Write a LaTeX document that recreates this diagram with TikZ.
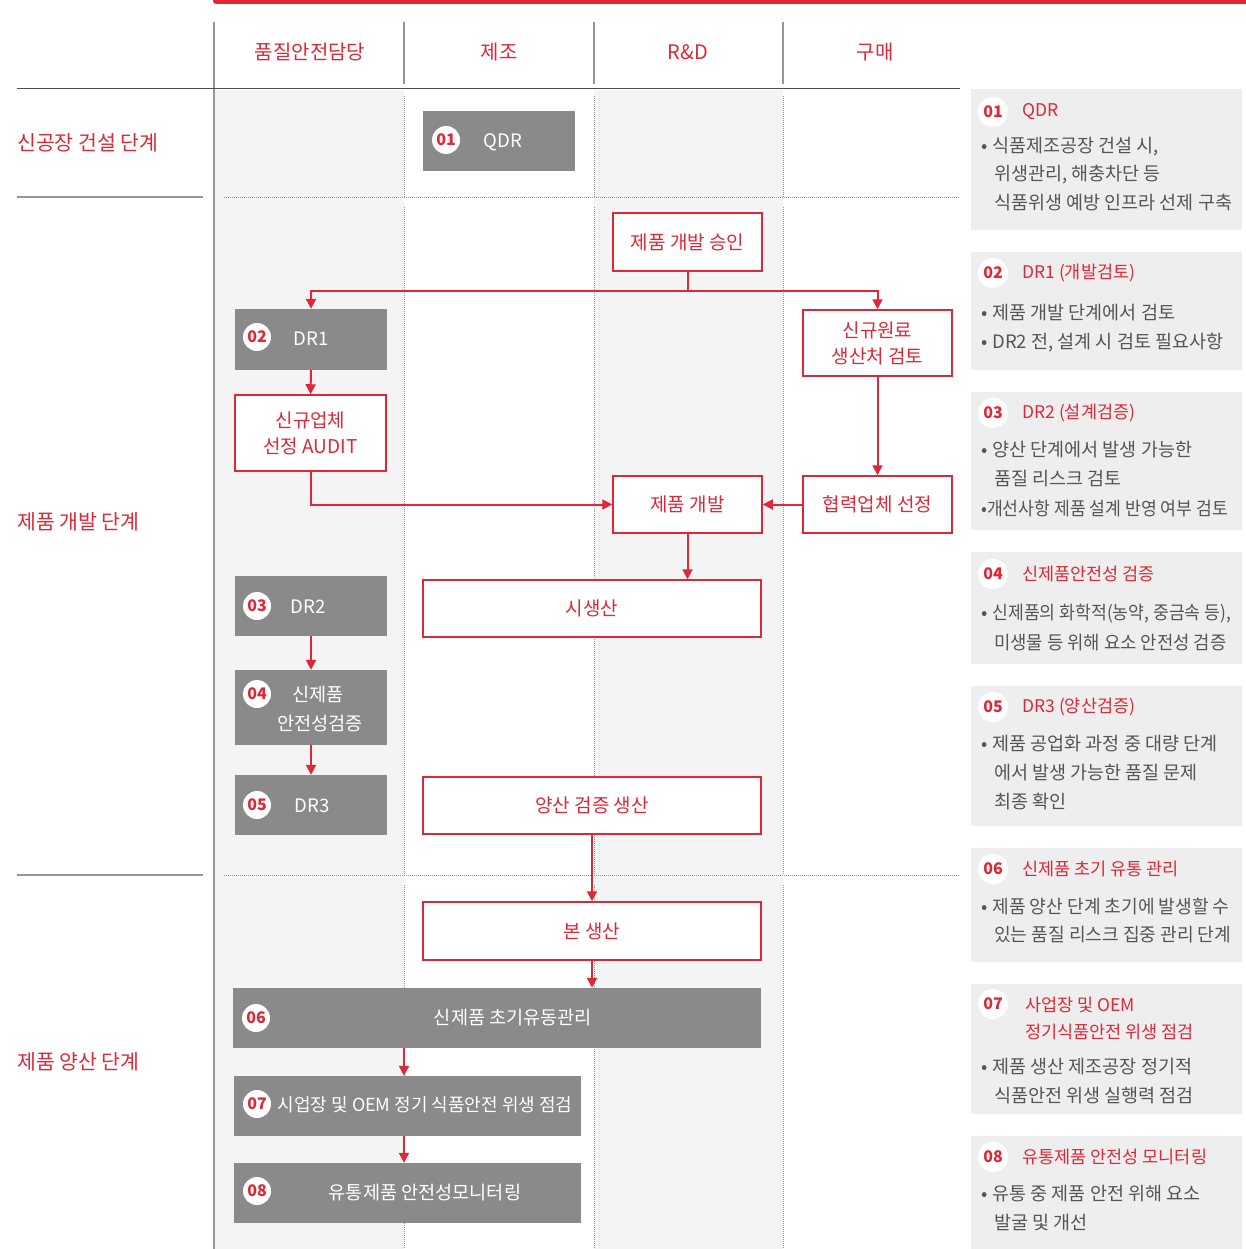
\documentclass[tikz,border=0pt]{standalone}
\usepackage{fontspec}
\setmainfont{Noto Sans CJK KR}
\usetikzlibrary{arrows.meta}
\definecolor{myred}{RGB}{222,40,55}
\definecolor{gboxc}{RGB}{138,138,138}
\definecolor{colbg}{RGB}{244,244,244}
\definecolor{panel}{RGB}{238,238,238}
\definecolor{bodytxt}{RGB}{85,85,85}
\definecolor{linegray}{RGB}{150,150,150}
\newcommand\myfs[2]{\fontsize{#1pt}{#2pt}\selectfont}
\tikzset{
 rbox/.style={draw=myred, line width=1.5pt, fill=white, text=myred, font=\myfs{19}{26}, align=center, inner sep=0pt},
 gbox/.style={fill=gboxc, inner sep=0pt},
 gtxt/.style={text=white, font=\myfs{18.6}{29}, align=center, inner sep=0pt},
 num/.style={circle, fill=white, text=myred, font=\myfs{16}{16}\bfseries, minimum size=28pt, inner sep=0pt},
 pnum/.style={circle, fill=white, text=myred, font=\myfs{16}{16}\bfseries, minimum size=30pt, inner sep=0pt},
 arr/.style={draw=myred, line width=2pt, -{Triangle[length=10pt,width=10pt]}},
 conn/.style={draw=myred, line width=2pt},
 hdr/.style={text=myred, font=\myfs{20}{20}, inner sep=0pt},
 stage/.style={text=myred, font=\myfs{20.5}{20.5}, anchor=west, inner sep=0pt},
 ptitle/.style={text=myred, font=\myfs{17.5}{27}, anchor=west, inner sep=0pt, align=left},
 pbody/.style={text=bodytxt, font=\myfs{18.5}{18.5}, anchor=west, inner sep=0pt},
 dotv/.style={draw=linegray, line width=0.8pt, dash pattern=on 1pt off 1pt},
}
\begin{document}
\begin{tikzpicture}[x=1pt,y=-1pt]
\useasboundingbox (0,0) rectangle (1245,1249);
% column backgrounds
\fill[colbg] (214,90) rectangle (404,1249);
\fill[colbg] (594,90) rectangle (783,1249);
% top red bar
\fill[myred, rounded corners=3pt] (213,-4) rectangle (1252,4);
% header separators
\draw[linegray, line width=2.5pt] (214,22) -- (214,1249);
\foreach \xx in {404,594,783}{
  \draw[linegray, line width=1.5pt] (\xx,22) -- (\xx,84);
  \draw[dotv] (\xx,96) -- (\xx,197);
  \draw[dotv] (\xx,207) -- (\xx,875);
  \draw[dotv] (\xx,885) -- (\xx,1249);
}
\draw[black!70, line width=1pt] (17,89) -- (960,89);
\draw[linegray, line width=1.2pt] (17,197) -- (203,197);
\draw[linegray, line width=1.2pt] (17,875) -- (203,875);
\draw[dotv] (224,197) -- (960,197);
\draw[dotv] (224,875) -- (960,875);
% headers
\node[hdr] (h1) at (310,52) {품질안전담당};
\node[hdr] (h2) at (499,52) {제조};
\node[hdr] (h3) at (688,52) {R\&D};
\node[hdr] (h4) at (875,52) {구매};
% stage labels
\node[stage] (s1) at (17,143) {신공장 건설 단계};
\node[stage] (s2) at (17,522) {제품 개발 단계};
\node[stage] (s3) at (17,1062) {제품 양산 단계};
% gray boxes
\node[gbox, minimum width=152pt, minimum height=60pt] (qdr) at (499,141) {};
\node[num] (n01) at (446,140) {01};
\node[gtxt] (tqdr) at (503,142) {QDR};
\node[gbox, minimum width=152pt, minimum height=61pt] (dr1) at (311,339.5) {};
\node[num] (n02) at (257,337) {02};
\node[gtxt] (tdr1) at (311,339) {DR1};
\node[gbox, minimum width=152pt, minimum height=60pt] (dr2) at (311,606) {};
\node[num] (n03) at (257,606) {03};
\node[gtxt] (tdr2) at (308,607) {DR2};
\node[gbox, minimum width=152pt, minimum height=75pt] (safe) at (311,707.5) {};
\node[num] (n04) at (257,694) {04};
\node[gtxt] (tsafe) at (320,709.5) {\hspace*{-4pt}신제품\\안전성검증};
\node[gbox, minimum width=152pt, minimum height=60pt] (dr3) at (311,805) {};
\node[num] (n05) at (257,805) {05};
\node[gtxt] (tdr3) at (312,806) {DR3};
\node[gbox, minimum width=528pt, minimum height=60pt] (b06) at (497,1018) {};
\node[num] (n06) at (256,1018) {06};
\node[gtxt] (t06) at (513,1018) {신제품 초기유동관리};
\node[gbox, minimum width=347pt, minimum height=60pt] (b07) at (407.5,1106) {};
\node[num] (n07) at (257,1104) {07};
\node[gtxt, font=\myfs{18}{18}] (t07) at (425,1105) {시업장 및 OEM 정기 식품안전 위생 점검};
\node[gbox, minimum width=347pt, minimum height=60pt] (b08) at (407.5,1193) {};
\node[num] (n08) at (257,1191) {08};
\node[gtxt] (t08) at (425,1193) {유통제품 안전성모니터링};
% red boxes
\node[rbox, minimum width=149pt, minimum height=58pt] (appr) at (687.5,242) {제품 개발 승인};
\node[rbox, minimum width=151pt, minimum height=76pt] (audit) at (310.5,433) {신규업체\\선정 AUDIT};
\node[rbox, minimum width=149pt, minimum height=66pt] (raw) at (877.5,343) {신규원료\\생산처 검토};
\node[rbox, minimum width=149pt, minimum height=57pt] (dev) at (687.5,504.5) {제품 개발};
\node[rbox, minimum width=149pt, minimum height=57pt] (coop) at (877.5,504.5) {협력업체 선정};
\node[rbox, minimum width=338pt, minimum height=57pt] (trial) at (592,608.5) {시생산};
\node[rbox, minimum width=338pt, minimum height=57pt] (mass) at (592,805.5) {양산 검증 생산};
\node[rbox, minimum width=338pt, minimum height=58pt] (prod) at (592,931) {본 생산};
% connectors
\coordinate (split) at (687.5,291);
\draw[conn] (appr.south) -- (split);
\draw[arr] (split) -| (dr1.north);
\draw[arr] (split) -| (raw.north);
\draw[arr] (dr1.south) -- (audit.north);
\draw[arr] (audit.south) |- (dev.west);
\draw[arr] (raw.south) -- (coop.north);
\draw[arr] (coop.west) -- (dev.east);
\draw[arr] (dev.south) -- (dev.south |- trial.north);
\draw[arr] (dr2.south) -- (safe.north);
\draw[arr] (safe.south) -- (dr3.north);
\draw[arr] (mass.south) -- (prod.north);
\draw[arr] (prod.south) -- (prod.south |- b06.north);
\draw[arr] ([xshift=-3.5pt]b07.north |- b06.south) -- ([xshift=-3.5pt]b07.north);
\draw[arr] ([xshift=-3.5pt]b08.north |- b07.south) -- ([xshift=-3.5pt]b08.north);
% right panel
\fill[panel] (971,89) rectangle (1242,230);
\fill[panel] (971,252) rectangle (1242,370);
\fill[panel] (971,392) rectangle (1242,530);
\fill[panel] (971,552) rectangle (1242,664);
\fill[panel] (971,686) rectangle (1242,826);
\fill[panel] (971,848) rectangle (1242,962);
\fill[panel] (971,984) rectangle (1242,1114);
\fill[panel] (971,1136) rectangle (1242,1249);
% panel 1
\node[pnum] (p01) at (993,112) {01};
\node[ptitle] (pt01) at (1022,112) {QDR};
\node[pbody] (pb01a) at (981,147) {•\hspace{5pt}식품제조공장 건설 시,};
\node[pbody] (pb01b) at (994,175) {위생관리, 해충차단 등};
\node[pbody] (pb01c) at (994,203) {식품위생 예방 인프라 선제 구축};
% panel 2
\node[pnum] (p02) at (993,273) {02};
\node[ptitle] (pt02) at (1022,273) {DR1 (개발검토)};
\node[pbody] (pb02a) at (981,313) {•\hspace{5pt}제품 개발 단계에서 검토};
\node[pbody] (pb02b) at (981,343) {•\hspace{5pt}DR2 전, 설계 시 검토 필요사항};
% panel 3
\node[pnum] (p03) at (993,413) {03};
\node[ptitle] (pt03) at (1022,413) {DR2 (설계검증)};
\node[pbody] (pb03a) at (981,450) {•\hspace{5pt}양산 단계에서 발생 가능한};
\node[pbody] (pb03b) at (994,479) {품질 리스크 검토};
\node[pbody] (pb03c) at (981,509) {\scalebox{0.93}[1]{•개선사항 제품 설계 반영 여부 검토}};
% panel 4
\node[pnum] (p04) at (993,574) {04};
\node[ptitle] (pt04) at (1022,574) {신제품안전성 검증};
\node[pbody] (pb04a) at (981,614) {•\hspace{5pt}\scalebox{0.93}[1]{신제품의 화학적(농약, 중금속 등),}};
\node[pbody] (pb04b) at (994,643) {\scalebox{0.96}[1]{미생물 등 위해 요소 안전성 검증}};
% panel 5
\node[pnum] (p05) at (993,707) {05};
\node[ptitle] (pt05) at (1022,707) {DR3 (양산검증)};
\node[pbody] (pb05a) at (981,744) {•\hspace{5pt}제품 공업화 과정 중 대량 단계};
\node[pbody] (pb05b) at (994,773) {에서 발생 가능한 품질 문제};
\node[pbody] (pb05c) at (994,802) {최종 확인};
% panel 6
\node[pnum] (p06) at (993,869) {06};
\node[ptitle] (pt06) at (1022,869) {신제품 초기 유통 관리};
\node[pbody] (pb06a) at (981,906) {•\hspace{5pt}\scalebox{0.98}[1]{제품 양산 단계 초기에 발생할 수}};
\node[pbody] (pb06b) at (994,935) {\scalebox{0.98}[1]{있는 품질 리스크 집중 관리 단계}};
% panel 7
\node[pnum] (p07) at (993,1004) {07};
\node[ptitle, anchor=north west] (pt07) at (1025,997) {사업장 및 OEM\\정기식품안전 위생 점검};
\node[pbody] (pb07a) at (981,1067) {•\hspace{5pt}제품 생산 제조공장 정기적};
\node[pbody] (pb07b) at (994,1096) {식품안전 위생 실행력 점검};
% panel 8
\node[pnum] (p08) at (993,1157) {08};
\node[ptitle] (pt08) at (1022,1157) {유통제품 안전성 모니터링};
\node[pbody] (pb08a) at (981,1194) {•\hspace{5pt}유통 중 제품 안전 위해 요소};
\node[pbody] (pb08b) at (994,1223) {발굴 및 개선};
\end{tikzpicture}
\end{document}
